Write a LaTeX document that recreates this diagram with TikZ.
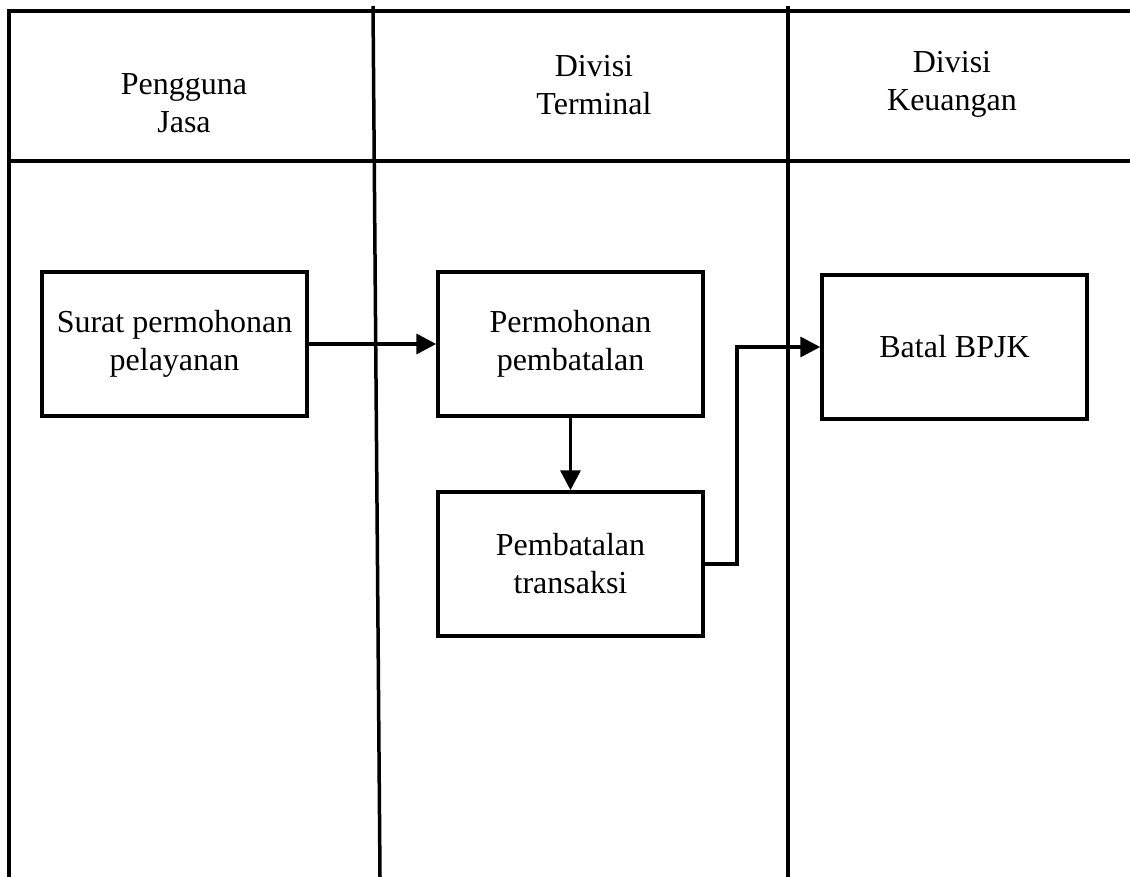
\documentclass[tikz,border=0pt]{standalone}
\usepackage{fontspec}
\setmainfont{Liberation Serif}
\usetikzlibrary{arrows.meta}
\begin{document}
\begin{tikzpicture}[x=1pt,y=-1pt,
  lane/.style={line width=3.5pt},
  procbox/.style={draw,line width=3.5pt,minimum width=265pt,minimum height=144pt,inner sep=0pt,align=center,font=\fontsize{32}{38}\selectfont},
  hdr/.style={align=center,inner sep=0pt,font=\fontsize{32}{38}\selectfont},
  flow/.style={line width=3.5pt,-{Triangle[length=20pt,width=20pt]}}]
\useasboundingbox (0,0) rectangle (1130,877);
% swimlane frame
\draw[lane] (1130,11) -- (9,11) -- (9,877);
\draw[lane] (9,161) -- (1130,161);
\draw[lane] (373,6) -- (380,877);
\draw[lane] (788,6) -- (788,877);
% headers
\node[hdr] (h1) at (184,103) {Pengguna\\Jasa};
\node[hdr] (h2) at (594,85) {Divisi\\Terminal};
\node[hdr] (h3) at (952,84) {Divisi\\Keuangan};
% boxes
\node[procbox] (b1) at (174.5,344) {Surat permohonan\\pelayanan};
\node[procbox] (b2) at (570.5,344) {Permohonan\\pembatalan};
\node[procbox] (b3) at (570.5,564) {Pembatalan\\transaksi};
\node[procbox] (b4) at (954.5,347) {Batal BPJK};
\coordinate (c1) at (737,564);
\coordinate (c2) at (737,347);
% connectors
\draw[flow] (b1.east) -- (b2.west);
\draw[flow] (b2.south) -- (b3.north);
\draw[flow] (b3.east) -- (c1) -- (c2) -- (b4.west);
\end{tikzpicture}
\end{document}
